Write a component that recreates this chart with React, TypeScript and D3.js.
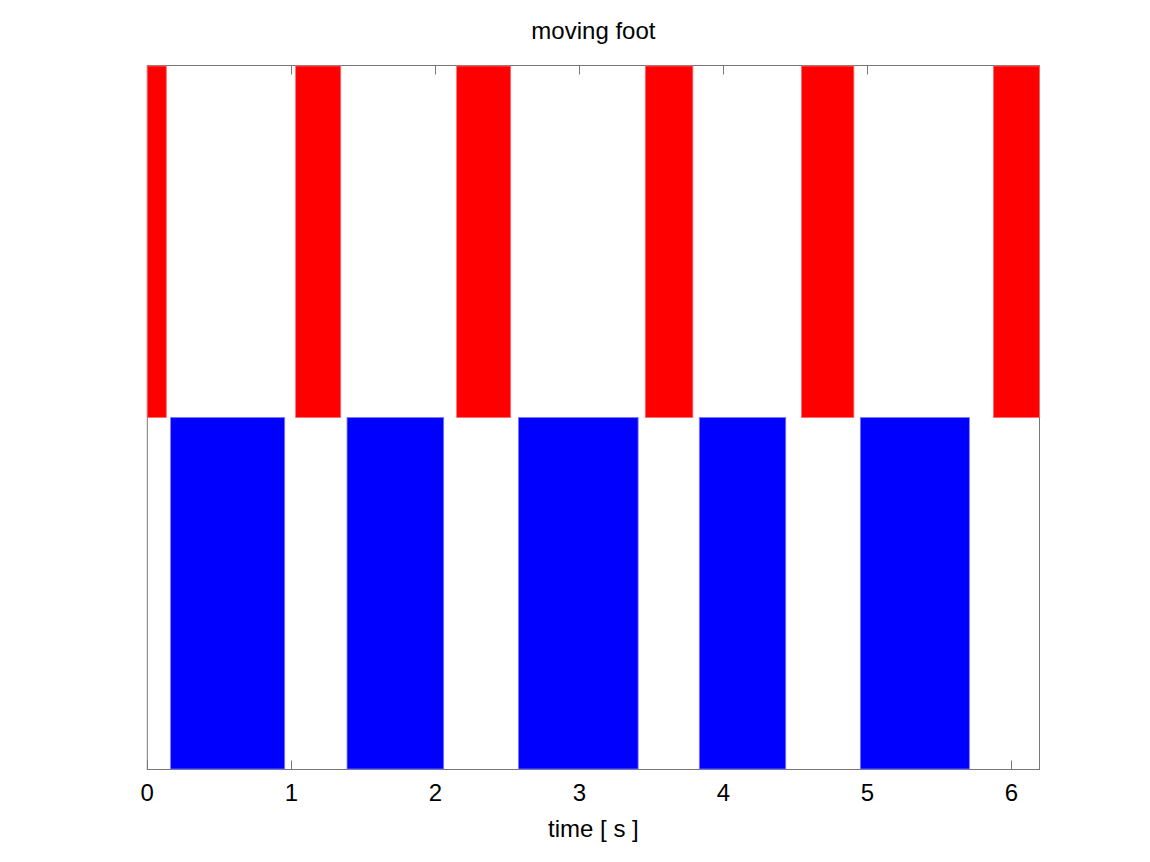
import React, { useEffect, useRef } from 'react';
import * as d3 from 'd3';

// stance intervals (seconds) for each foot
const redIntervals: [number, number][] = [
  [0, 0.132], [1.03, 1.343], [2.148, 2.523], [3.458, 3.788], [4.542, 4.906], [5.875, 6.195],
];
const blueIntervals: [number, number][] = [
  [0.162, 0.954], [1.387, 2.058], [2.577, 3.408], [3.833, 4.433], [4.951, 5.708],
];
const xTicks = [0, 1, 2, 3, 4, 5, 6];
const xMax = 6.195;

const App = () => {
  const ref = useRef<SVGSVGElement>(null);

  useEffect(() => {
    document.body.style.margin = '0';
    const width = 1150;
    const height = 862;
    const margin = { top: 65.5, right: 110.5, bottom: 92.5, left: 147.3 };

    const svg = d3.select(ref.current)
      .attr('width', width)
      .attr('height', height)
      .style('display', 'block')
      .style('background', 'white')
      .style('font-family', "'Liberation Sans', Arial, sans-serif");
    svg.selectAll('*').remove();

    const x = d3.scaleLinear().domain([0, xMax]).range([margin.left, width - margin.right]);
    const y = d3.scaleLinear().domain([0, 1]).range([height - margin.bottom, margin.top]);
    const axisColor = '#777';

    // box
    svg.append('rect')
      .attr('x', x(0))
      .attr('y', y(1))
      .attr('width', x(xMax) - x(0))
      .attr('height', y(0) - y(1))
      .attr('fill', 'none')
      .attr('stroke', axisColor)
      .attr('stroke-width', 1);

    // inward ticks on bottom and top
    const tickLen = 9;
    svg.append('g')
      .selectAll('line')
      .data(xTicks)
      .join('line')
      .attr('x1', d => Math.round(x(d)) + 0.5)
      .attr('x2', d => Math.round(x(d)) + 0.5)
      .attr('y1', y(0))
      .attr('y2', y(0) - tickLen)
      .attr('stroke', axisColor);
    svg.append('g')
      .selectAll('line')
      .data(xTicks)
      .join('line')
      .attr('x1', d => Math.round(x(d)) + 0.5)
      .attr('x2', d => Math.round(x(d)) + 0.5)
      .attr('y1', y(1))
      .attr('y2', y(1) + tickLen)
      .attr('stroke', axisColor);

    // red foot (upper half)
    svg.append('g')
      .selectAll('rect')
      .data(redIntervals)
      .join('rect')
      .attr('x', d => x(d[0]))
      .attr('width', d => x(d[1]) - x(d[0]))
      .attr('y', y(1) + 0.5)
      .attr('height', y(0.5) - y(1) - 0.5)
      .attr('fill', '#ff0000')
      .attr('stroke', '#ff6a6a')
      .attr('stroke-width', 0.8);

    // blue foot (lower half)
    svg.append('g')
      .selectAll('rect')
      .data(blueIntervals)
      .join('rect')
      .attr('x', d => x(d[0]))
      .attr('width', d => x(d[1]) - x(d[0]))
      .attr('y', y(0.5))
      .attr('height', y(0) - y(0.5) - 0.5)
      .attr('fill', '#0000ff')
      .attr('stroke', '#7a7aff')
      .attr('stroke-width', 0.8);

    // tick labels
    svg.append('g')
      .attr('text-anchor', 'middle')
      .selectAll('text')
      .data(xTicks)
      .join('text')
      .attr('x', d => x(d))
      .attr('y', 801)
      .attr('font-size', 24)
      .attr('fill', '#000')
      .text(d => d);

    svg.append('text')
      .attr('x', (x(0) + x(xMax)) / 2)
      .attr('y', 39)
      .attr('text-anchor', 'middle')
      .attr('font-size', 24)
      .text('moving foot');

    svg.append('text')
      .attr('x', (x(0) + x(xMax)) / 2)
      .attr('y', 837)
      .attr('text-anchor', 'middle')
      .attr('font-size', 24)
      .text('time [ s ]');
  }, []);

  return <svg ref={ref}></svg>;
};

export default App;
